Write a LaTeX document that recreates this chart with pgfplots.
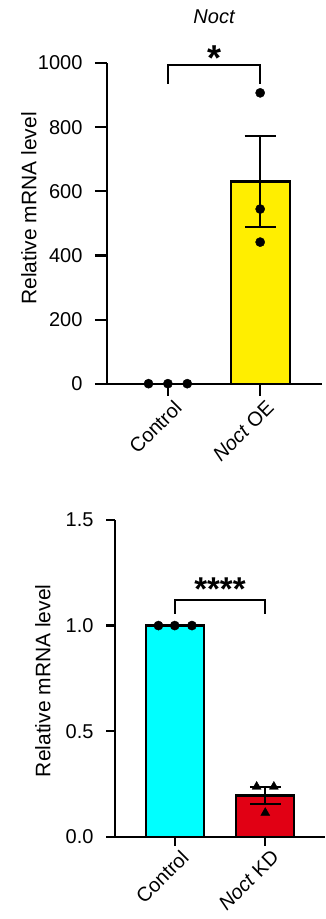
\documentclass[border=0pt]{standalone}
\usepackage{pgfplots}
\pgfplotsset{compat=1.18}
\usepackage{fontspec}
\setmainfont{Liberation Sans}
\definecolor{oeyellow}{RGB}{255,238,0}
\definecolor{kdcyan}{RGB}{0,255,255}
\definecolor{kdred}{RGB}{225,0,20}
\pgfplotsset{
  myax/.style={
    scale only axis,
    axis lines=left,
    axis line style={-, line width=2.2pt, black},
    clip=false,
    tick align=outside,
    major tick style={line width=2.2pt, black},
    major tick length=12pt,
    ymin=0,
    xtick={0,1},
    font=\fontsize{20}{24}\selectfont,
    ticklabel style={font=\fontsize{20}{24}\selectfont},
    /pgf/number format/assume math mode=true,
    /pgf/number format/1000 sep={},
    xticklabel style={xshift=5pt, rotate=45, anchor=north east, inner sep=2pt},
    yticklabel style={xshift=-9pt},
    ylabel={Relative mRNA level},
    ylabel style={font=\fontsize{21}{24}\selectfont, anchor=center},
  },
  barst/.style={ybar, draw=black, line width=2.2pt, bar width=0.64},
  dots/.style={only marks, mark=*, mark size=4.6pt, black},
  errb/.style={draw=none, mark=none, line width=2.2pt, forget plot,
    error bars/.cd, y dir=both, y explicit,
    error bar style={draw=black, line width=2.2pt},
    error mark options={rotate=90, draw=black, line width=2.2pt, mark size=15.5pt}},
}
\begin{document}
\begin{tikzpicture}
\path[use as bounding box] (0pt,0pt) rectangle (325pt,919pt);
% ---------------- top chart ----------------
\begin{axis}[myax,
  at={(107pt,535pt)}, anchor=south west,
  width=215pt, height=321pt,
  xmin=-0.66, xmax=1.67, ymax=1000,
  ytick={0,200,400,600,800,1000},
  xticklabels={Control, \textit{Noct} OE},
  ylabel style={at={(axis description cs:-0.363,0.547)}},
]
\addplot[barst, fill=white] coordinates {(0,1)};
\addplot[barst, fill=oeyellow] coordinates {(1,631)};
\addplot[errb] coordinates {(1,631) +- (0,141)};
\addplot[dots] coordinates {(-0.21,1) (0,1) (0.21,1)};
\addplot[dots] coordinates {(1,907) (1,545) (1,442)};
\addplot[black, line width=2.2pt, mark=none] coordinates {(0,935) (0,993) (1,993) (1,935)};
\node[font=\bfseries\fontsize{36}{36}\selectfont] at (axis cs:0.5,1015) {*};
\node[font=\itshape\fontsize{20}{24}\selectfont] at (axis cs:0.5,1143) {Noct};
\end{axis}
% ---------------- bottom chart ----------------
\begin{axis}[myax,
  at={(115pt,82.3pt)}, anchor=south west,
  width=210pt, height=316.7pt,
  xmin=-0.66, xmax=1.66, ymax=1.5,
  major tick length=9pt,
  ytick={0,0.5,1.0,1.5},
  yticklabel style={/pgf/number format/fixed, /pgf/number format/fixed zerofill, /pgf/number format/precision=1},
  xticklabels={Control, \textit{Noct} KD},
  ylabel style={at={(axis description cs:-0.343,0.492)}},
]
\addplot[barst, fill=kdcyan] coordinates {(0,1)};
\addplot[barst, fill=kdred] coordinates {(1,0.195)};
\addplot[errb] coordinates {(1,0.195) +- (0,0.040)};
\addplot[dots] coordinates {(-0.18,1) (0,1) (0.19,1)};
\addplot[only marks, mark=triangle*, mark size=5.2pt, black] coordinates {(0.905,0.237) (1.095,0.237) (1,0.113)};
\addplot[black, line width=2.2pt, mark=none] coordinates {(0,1.055) (0,1.12) (1,1.12) (1,1.055)};
\node[font=\bfseries\fontsize{33}{33}\selectfont] at (axis cs:0.5,1.172) {****};
\end{axis}
\end{tikzpicture}
\end{document}
